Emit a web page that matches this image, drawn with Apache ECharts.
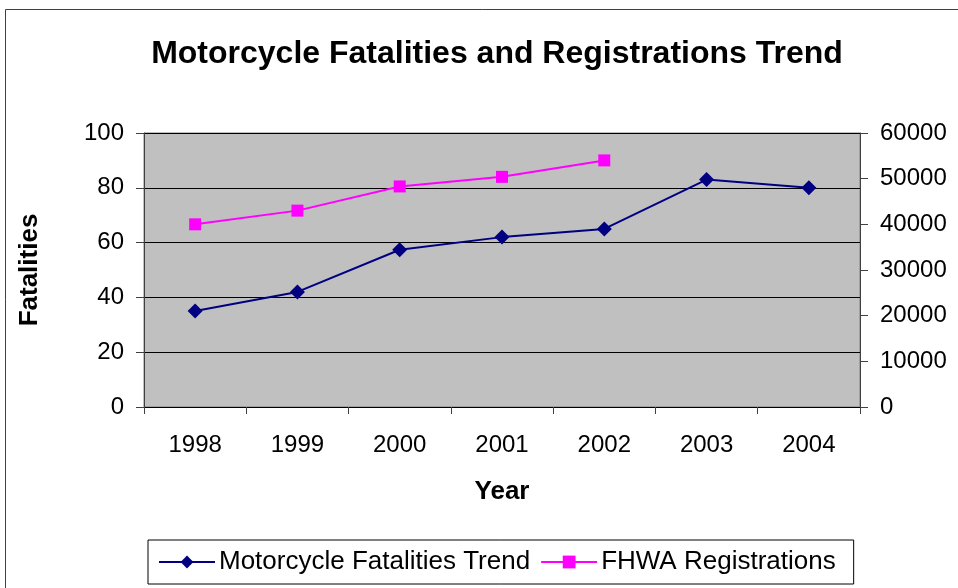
<!DOCTYPE html>
<html>
<head>
<meta charset="utf-8">
<script src="https://cdn.jsdelivr.net/npm/echarts@6/dist/echarts.min.js"></script>
<style>
html, body { margin: 0; padding: 0; background: #fff; }
#chart { width: 958px; height: 588px; }
</style>
</head>
<body>
<div id="chart"></div>
<script>
// data
var years = ["1998", "1999", "2000", "2001", "2002", "2003", "2004"];
var fatalities = [35, 42, 57.4, 62, 65, 83, 80];
var registrations = [40000, 43000, 48300, 50400, 54000, null, null];

var font = "Liberation Sans, Arial, sans-serif";
var chart = echarts.init(document.getElementById("chart"));

var option = {
    backgroundColor: "#fff",
    animation: false,
    textStyle: { fontFamily: font },
    graphic: [{
        type: "rect",
        shape: { x: 5.5, y: 9.5, width: 1000, height: 1000 },
        style: { fill: "none", stroke: "#404040", lineWidth: 1 },
        silent: true
    }],
    title: {
        text: "Motorcycle Fatalities and Registrations Trend",
        left: 492,
        top: 33,
        textAlign: "center",
        textStyle: { fontFamily: font, fontSize: 32, fontWeight: "bold", color: "#000" }
    },
    grid: {
        left: 144,
        right: 98,
        top: 133,
        bottom: 181,
        show: true,
        backgroundColor: "#c0c0c0",
        borderColor: "#808080",
        borderWidth: 1
    },
    legend: {
        left: 148,
        top: 540,
        padding: [9, 18, 9, 10],
        itemGap: 10,
        itemWidth: 56,
        itemHeight: 16,
        borderColor: "#000",
        borderWidth: 1,
        textStyle: { fontFamily: font, fontSize: 26, color: "#000", padding: [0, 0, 0, -1] },
        data: ["Motorcycle Fatalities Trend", "FHWA Registrations"]
    },
    xAxis: {
        type: "category",
        data: years,
        boundaryGap: true,
        name: "Year",
        nameLocation: "middle",
        nameGap: 72,
        nameTextStyle: { fontFamily: font, fontSize: 26, fontWeight: "bold", color: "#000" },
        axisLine: { lineStyle: { color: "#000", width: 1 } },
        axisTick: { show: true, length: 7, lineStyle: { color: "#404040" } },
        axisLabel: { margin: 26, fontSize: 24, color: "#000", fontFamily: font }
    },
    yAxis: [{
        type: "value",
        min: 0,
        max: 100,
        interval: 20,
        name: "Fatalities",
        nameLocation: "middle",
        nameRotate: 90,
        nameGap: 101,
        nameTextStyle: { fontFamily: font, fontSize: 26, fontWeight: "bold", color: "#000" },
        axisLine: { show: true, lineStyle: { color: "#404040", width: 1 } },
        axisTick: { show: true, length: 8, lineStyle: { color: "#404040" } },
        axisLabel: { margin: 20, fontSize: 24, color: "#000", fontFamily: font },
        splitLine: { show: true, lineStyle: { color: "#000", width: 1 } }
    }, {
        type: "value",
        min: 0,
        max: 60000,
        interval: 10000,
        position: "right",
        axisLine: { show: true, lineStyle: { color: "#404040", width: 1 } },
        axisTick: { show: true, length: 8, lineStyle: { color: "#404040" } },
        axisLabel: {
            margin: 20, fontSize: 24, color: "#000", fontFamily: font,
            formatter: function(value) { return String(value); }
        },
        splitLine: { show: false }
    }],
    series: [{
        name: "Motorcycle Fatalities Trend",
        type: "line",
        yAxisIndex: 0,
        data: fatalities,
        symbol: "diamond",
        symbolSize: 15,
        itemStyle: { color: "#000080" },
        lineStyle: { color: "#000080", width: 2 }
    }, {
        name: "FHWA Registrations",
        type: "line",
        yAxisIndex: 1,
        data: registrations,
        symbol: "rect",
        symbolSize: 12,
        itemStyle: { color: "#ff00ff" },
        lineStyle: { color: "#ff00ff", width: 2 }
    }]
};

chart.setOption(option);
</script>
</body>
</html>
